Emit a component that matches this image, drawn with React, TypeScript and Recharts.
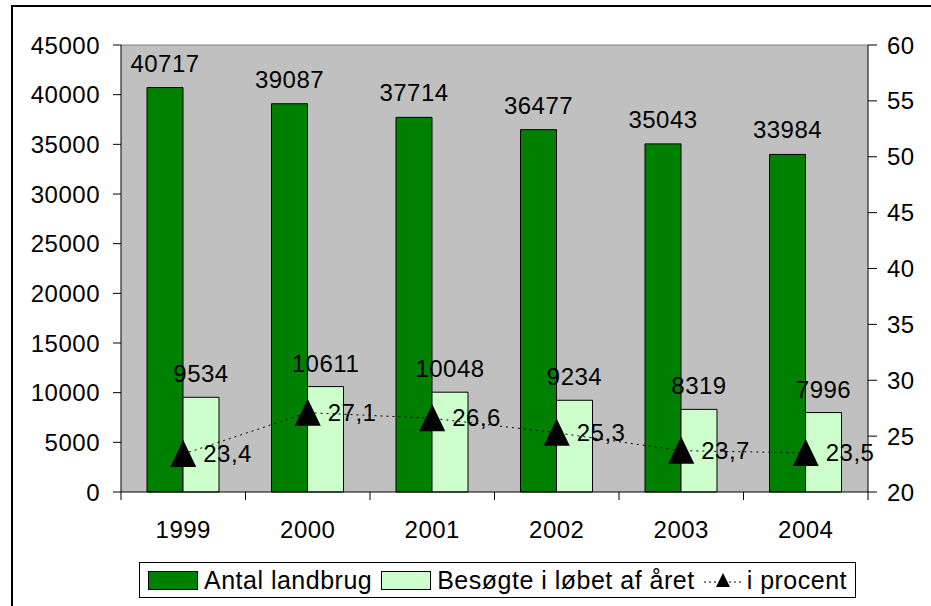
import React from "react";
import {
  ComposedChart,
  Bar,
  Line,
  XAxis,
  YAxis,
  CartesianGrid,
  LabelList,
  ReferenceLine,
} from "recharts";

const years = ["1999", "2000", "2001", "2002", "2003", "2004"];
const antal = [40717, 39087, 37714, 36477, 35043, 33984];
const besogte = [9534, 10611, 10048, 9234, 8319, 7996];
const procent = [23.4, 27.1, 26.6, 25.3, 23.7, 23.5];

const leftTicks = [0, 5000, 10000, 15000, 20000, 25000, 30000, 35000, 40000, 45000];
const rightTicks = [20, 25, 30, 35, 40, 45, 50, 55, 60];

const seriesNames = ["Antal landbrug", "Besøgte i løbet af året", "i procent"];

const data = years.map((y, i) => ({
  year: y,
  antal: antal[i],
  besogte: besogte[i],
  procent: procent[i],
}));

const W = 931;
const H = 606;
const LEFT_W = 121;
const RIGHT_W = 63;
const PLOT_W = W - LEFT_W - RIGHT_W;
const BAND = PLOT_W / years.length;

// tick marks sit between categories, like the original
const XTick = (props: any) => {
  const { x, y, payload, index } = props;
  return (
    <g>
      <line x1={x - BAND / 2} y1={y} x2={x - BAND / 2} y2={y + 8} stroke="#000" />
      {index === years.length - 1 && (
        <line x1={x + BAND / 2} y1={y} x2={x + BAND / 2} y2={y + 8} stroke="#000" />
      )}
      <text x={x} y={y + 46} textAnchor="middle" fill="#000" fontSize={24}>
        {payload.value}
      </text>
    </g>
  );
};

const Triangle = (props: any) => {
  const { cx, cy } = props;
  if (cx == null || cy == null) return null;
  return (
    <polygon
      points={`${cx},${cy - 14} ${cx - 13},${cy + 13} ${cx + 13},${cy + 13}`}
      fill="#000"
    />
  );
};

const PctLabel = (props: any) => {
  const { x, y, value } = props;
  return (
    <text x={x + 20} y={y + 8} fill="#000" fontSize={24}>
      {String(value).replace(".", ",")}
    </text>
  );
};

const swatch = (bg: string) => (
  <span
    style={{
      display: "inline-block",
      width: 48,
      height: 17,
      background: bg,
      border: "1px solid #000",
      marginRight: 6,
    }}
  />
);

export default function App() {
  return (
    <div
      style={{
        position: "absolute",
        left: 0,
        top: 0,
        width: W,
        height: H,
        overflow: "hidden",
        background: "#fff",
        fontFamily: "'Liberation Sans', Arial, sans-serif",
        letterSpacing: 0.5,
      }}
    >
      <div
        style={{
          position: "absolute",
          left: 11,
          top: 5,
          width: 1000,
          height: 700,
          border: "2px solid #000",
        }}
      />
      <div style={{ position: "absolute", left: 0, top: 0 }}>
        <ComposedChart
          width={W}
          height={H}
          data={data}
          margin={{ top: 45, right: 0, left: 0, bottom: 64 }}
          barSize={36}
          barGap={0}
        >
          <CartesianGrid
            yAxisId="left"
            fill="#C0C0C0"
            horizontal={false}
            vertical={false}
          />
          <XAxis
            dataKey="year"
            height={50}
            axisLine={{ stroke: "#000" }}
            tickLine={false}
            tickSize={0}
            tickMargin={0}
            tick={<XTick />}
            interval={0}
          />
          <YAxis
            yAxisId="left"
            width={LEFT_W}
            domain={[0, 45000]}
            ticks={leftTicks}
            interval={0}
            axisLine={{ stroke: "#000" }}
            tickLine={{ stroke: "#000" }}
            tickSize={8}
            tickMargin={13}
            tick={{ fill: "#000", fontSize: 24 }}
          />
          <YAxis
            yAxisId="right"
            orientation="right"
            width={RIGHT_W}
            domain={[20, 60]}
            ticks={rightTicks}
            interval={0}
            axisLine={{ stroke: "#000" }}
            tickLine={{ stroke: "#000" }}
            tickSize={9}
            tickMargin={10}
            tick={{ fill: "#000", fontSize: 24 }}
          />
          <ReferenceLine yAxisId="left" y={45000} stroke="#808080" />
          <Bar
            yAxisId="left"
            dataKey="antal"
            name={seriesNames[0]}
            fill="#008000"
            stroke="#000"
            strokeWidth={1}
            isAnimationActive={false}
          >
            <LabelList
              dataKey="antal"
              position="top"
              offset={16}
              fill="#000"
              stroke="none"
              fontSize={24}
            />
          </Bar>
          <Bar
            yAxisId="left"
            dataKey="besogte"
            name={seriesNames[1]}
            fill="#CCFFCC"
            stroke="#000"
            strokeWidth={1}
            isAnimationActive={false}
          >
            <LabelList
              dataKey="besogte"
              position="top"
              offset={15}
              fill="#000"
              stroke="none"
              fontSize={24}
            />
          </Bar>
          <Line
            yAxisId="right"
            dataKey="procent"
            name={seriesNames[2]}
            stroke="#000"
            strokeWidth={1}
            strokeDasharray="2 4"
            dot={<Triangle />}
            activeDot={false}
            isAnimationActive={false}
          >
            <LabelList dataKey="procent" content={<PctLabel />} />
          </Line>
        </ComposedChart>
      </div>
      <div
        style={{
          position: "absolute",
          left: 139,
          top: 562,
          width: 715,
          height: 34,
          border: "1px solid #000",
          background: "#fff",
          display: "flex",
          alignItems: "center",
          justifyContent: "center",
          fontSize: 25,
          color: "#000",
          whiteSpace: "nowrap",
        }}
      >
        <span style={{ display: "flex", alignItems: "center", marginRight: 9 }}>
          {swatch("#008000")}
          {seriesNames[0]}
        </span>
        <span style={{ display: "flex", alignItems: "center", marginRight: 9 }}>
          {swatch("#CCFFCC")}
          {seriesNames[1]}
        </span>
        <span style={{ display: "flex", alignItems: "center" }}>
          <svg width={38} height={20} style={{ marginRight: 5 }}>
            <line x1={0} y1={12} x2={38} y2={12} stroke="#000" strokeDasharray="2 3" />
            <polygon points="19,3 12,17 26,17" fill="#000" />
          </svg>
          {seriesNames[2]}
        </span>
      </div>
    </div>
  );
}
